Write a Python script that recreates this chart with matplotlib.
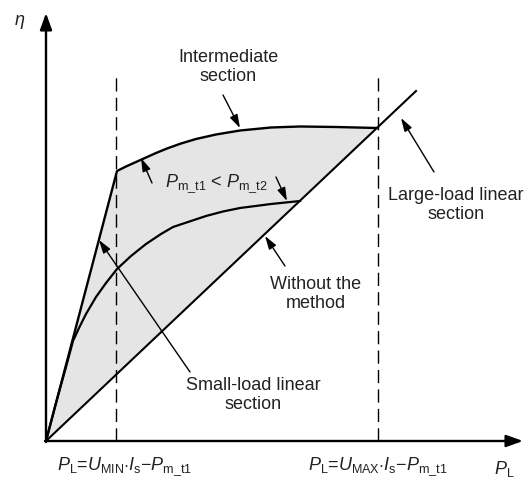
import matplotlib
matplotlib.use("Agg")
import matplotlib.pyplot as plt

plt.rcParams["font.family"] = ["Liberation Sans", "DejaVu Sans"]
plt.rcParams["mathtext.fontset"] = "custom"
plt.rcParams["mathtext.rm"] = "Liberation Sans"
plt.rcParams["mathtext.it"] = "Liberation Sans:italic"

# Efficiency curves (P_L, eta) in arbitrary schematic units
upper_x = [0, 71, 80, 90, 100, 110, 121, 135, 150, 170, 194, 225, 254, 290, 331]
upper_y = [0, 270, 274.5, 279, 283.5, 288, 292.5, 297.5, 302, 306.5, 310.5, 313.5, 314.5, 314, 313]

lower_x = [0, 10, 20, 27, 33, 40, 50, 60, 71, 85, 100, 115, 127, 145, 160, 177, 194, 225, 254]
lower_y = [0, 38, 74, 100, 113, 127, 144, 158, 172, 185, 197, 207, 214, 220, 225, 229.5, 233, 237, 240]

diag_x = [0, 370]
diag_y = [0, 350]

# Boundaries U_MIN*Is - Pm_t1 and U_MAX*Is - Pm_t1
p_min = 70
p_max = 332
dash_top = 365

TXT = "#222222"
FS = 13

fig = plt.figure(figsize=(5.32, 4.78), dpi=100)
ax = fig.add_axes([0, 0, 1, 1])
ax.set_xlim(-46, 486)
ax.set_ylim(-37, 441)
ax.axis("off")

# shaded gain area between the upper curve and the plain linear curve
poly_x = upper_x + [diag_x[0]]
poly_y = upper_y + [diag_y[0]]
ax.fill(poly_x, poly_y, color="#e5e5e5", lw=0, zorder=1)

ax.plot(upper_x, upper_y, color="k", lw=1.7, zorder=3, solid_joinstyle="round")
ax.plot(lower_x, lower_y, color="k", lw=1.6, zorder=3, solid_joinstyle="round")
ax.plot(diag_x, diag_y, color="k", lw=1.5, zorder=3)

for xv in (p_min, p_max):
    ax.plot([xv, xv], [0, dash_top], color="k", lw=1.0, dashes=(9.5, 4.5), zorder=2)

# axes with arrow heads
axis_style = dict(arrowstyle="-|>,head_length=1.0,head_width=0.36", lw=1.7,
                  color="k", shrinkA=0, shrinkB=0)
ax.annotate("", xy=(0, 428), xytext=(0, -1), arrowprops=axis_style, zorder=4)
ax.annotate("", xy=(477, 0), xytext=(-1, 0), arrowprops=axis_style, zorder=4)

ax.text(-26, 419, r"$\eta$", fontsize=FS, color=TXT, ha="center", va="center")
ax.text(458, -28, r"$P_{\mathrm{L}}$", fontsize=FS, color=TXT, ha="center", va="center")
ax.text(p_min + 9, -26, r"$P_{\mathrm{L}}$=$U_{\mathrm{MIN}}$$\cdot$$I_{\mathrm{s}}$$-$$P_{\mathrm{m\_t1}}$",
        fontsize=FS, color=TXT, ha="center", va="center")
ax.text(p_max, -26, r"$P_{\mathrm{L}}$=$U_{\mathrm{MAX}}$$\cdot$$I_{\mathrm{s}}$$-$$P_{\mathrm{m\_t1}}$",
        fontsize=FS, color=TXT, ha="center", va="center")

# annotations
arrow_style = dict(arrowstyle="-|>,head_length=0.8,head_width=0.25", lw=1.0,
                   color="k", shrinkA=0, shrinkB=0)
labels = [
    ("Intermediate\nsection", (182, 374), (177, 346), (194, 313)),
    ("Large-load linear\nsection", (410, 236), (388, 269), (355, 323)),
    ("Without the\nmethod", (270, 147), (239, 175), (219, 205)),
    ("Small-load linear\nsection", (207, 46), (144, 69), (53, 201)),
]
for text, pos, tail, tip in labels:
    ax.text(pos[0], pos[1], text, fontsize=FS, color=TXT, ha="center", va="center",
            linespacing=1.15)
    ax.annotate("", xy=tip, xytext=tail, arrowprops=arrow_style, zorder=4)

ax.text(119, 254, r"$P_{\mathrm{m\_t1}}$ < $P_{\mathrm{m\_t2}}$", fontsize=FS, color=TXT,
        ha="left", va="baseline")
ax.annotate("", xy=(95, 283), xytext=(106, 258), arrowprops=arrow_style, zorder=4)
ax.annotate("", xy=(241, 240), xytext=(230, 264), arrowprops=arrow_style, zorder=4)

fig.savefig("out.png", dpi=100)
